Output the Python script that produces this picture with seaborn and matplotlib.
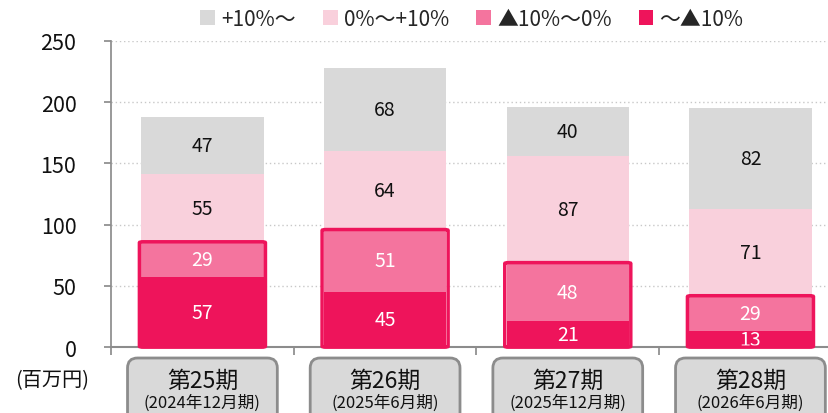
import numpy as np
import pandas as pd
import matplotlib
matplotlib.use("Agg")
import matplotlib.pyplot as plt
import seaborn as sns
from matplotlib.patches import FancyBboxPatch, Patch
from matplotlib.transforms import IdentityTransform

# データ
periods = ["第25期", "第26期", "第27期", "第28期"]
period_sub = ["(2024年12月期)", "(2025年6月期)", "(2025年12月期)", "(2026年6月期)"]
seg_names = ["～▲10%", "▲10%～0%", "0%～+10%", "+10%～"]  # 下から上
v_low = [57, 45, 21, 13]
v_mid_neg = [29, 51, 48, 29]
v_mid_pos = [55, 64, 87, 71]
v_high = [47, 68, 40, 82]
seg_colors = ["#ee145b", "#f4749e", "#f9d0dc", "#d9d9d9"]
text_colors = ["white", "white", "#111111", "#111111"]

sns.set_theme(style="white")
plt.rcParams["font.family"] = ["Noto Sans CJK JP", "DejaVu Sans"]

values = np.array([v_low, v_mid_neg, v_mid_pos, v_high], dtype=float)
cum = np.cumsum(values, axis=0)

fig = plt.figure(figsize=(8.29, 4.14), dpi=100)
ax = fig.add_axes([0.134, 0.159, 0.866, 0.74])

# 上の層から順に累積値を重ねて描く
for k in range(3, -1, -1):
    df = pd.DataFrame({"period": periods, "value": cum[k]})
    sns.barplot(data=df, x="period", y="value", color=seg_colors[k],
                saturation=1, width=0.67, ax=ax, linewidth=0)

ax.set_xlim(-0.5, 3.43)
ax.set_ylim(0, 250)
ax.set_yticks(np.arange(0, 251, 50))
ax.set_xlabel("")
ax.set_ylabel("")
ax.yaxis.grid(True, linestyle=(0, (1, 2)), color="#c8c8c8", linewidth=1)
ax.set_axisbelow(True)
for s in ["top", "right"]:
    ax.spines[s].set_visible(False)
ax.spines["left"].set_color("#8c8c8c")
ax.spines["bottom"].set_color("#8c8c8c")
ax.spines["bottom"].set_linewidth(1.5)
ax.tick_params(axis="y", length=5, color="#8c8c8c", labelsize=15.5, left=True,
               labelcolor="#111111", pad=20)
ax.set_xticks([-0.5, 0.5, 1.5, 2.5], minor=False)
ax.set_xticklabels([])
ax.tick_params(axis="x", length=6, color="#8c8c8c", bottom=True, direction="out")

# 値ラベル
for k in range(4):
    for i in range(len(periods)):
        mid = cum[k][i] - values[k][i] / 2
        ax.text(i, mid, f"{int(values[k][i])}", ha="center", va="center",
                fontsize=14, color=text_colors[k])

# 下位2層を囲む枠
for i in range(len(periods)):
    ax.add_patch(FancyBboxPatch((i - 0.345, 0), 0.69, cum[1][i],
                                boxstyle="round,pad=0,rounding_size=0.02",
                                mutation_aspect=40,
                                fill=False, edgecolor="#ee145b", linewidth=2.5,
                                zorder=5, clip_on=False))

# 期ラベルのボックス
fig.canvas.draw()
for i in range(len(periods)):
    x0 = ax.transData.transform((i - 0.41, 0))[0]
    x1 = ax.transData.transform((i + 0.41, 0))[0]
    y_top = 414 - 359
    box = FancyBboxPatch((x0, -20), x1 - x0, y_top + 20,
                         boxstyle="round,pad=0,rounding_size=10",
                         facecolor="#d9d9d9", edgecolor="#8c8c8c", linewidth=2,
                         transform=IdentityTransform(), zorder=3)
    fig.patches.append(box)
    xc = (x0 + x1) / 2 / 829
    fig.text(xc, (414 - 381) / 414, periods[i], ha="center", va="center",
             fontsize=16.5, color="#111111", zorder=4)
    fig.text(xc, (414 - 403) / 414, period_sub[i], ha="center", va="center",
             fontsize=12, color="#111111", zorder=4)

fig.text(52 / 829, (414 - 381) / 414, "(百万円)", ha="center", va="center",
         fontsize=14.5, color="#111111")

# 凡例
handles = [Patch(facecolor=seg_colors[k], edgecolor="none", label=seg_names[k])
           for k in range(3, -1, -1)]
fig.legend(handles=handles, loc="center", bbox_to_anchor=(472 / 829, (414 - 20) / 414),
           ncol=4, frameon=False, fontsize=15, handlelength=0.7, handleheight=0.7,
           handletextpad=0.3, columnspacing=1.3)

fig.savefig("out.png", dpi=100)
